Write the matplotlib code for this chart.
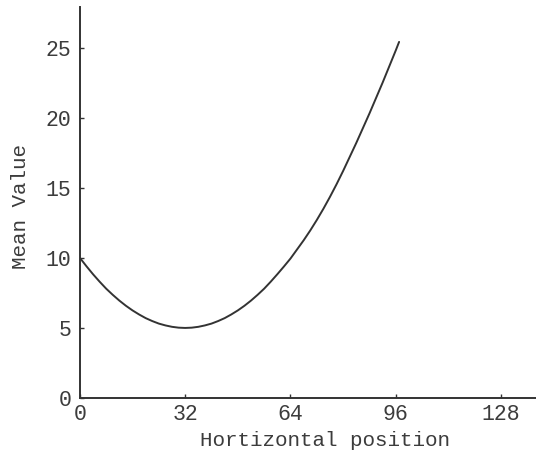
import matplotlib
matplotlib.use("Agg")
import matplotlib.pyplot as plt

# ─── data ──────────────────────────────────────────────────────
x_pos = [0, 2, 4, 6, 8, 10, 12, 14, 16, 18, 20, 22, 24, 26, 28, 30,
         32, 34, 36, 38, 40, 42, 44, 46, 48, 50, 52, 54, 56, 58, 60,
         62, 64, 66, 68, 70, 72, 74, 76, 78, 80, 82, 84, 86, 88, 90,
         92, 94, 96, 97]
mean_val = [10.0, 9.4, 8.83, 8.3, 7.8, 7.36, 6.95, 6.58, 6.25, 5.96,
            5.7, 5.49, 5.31, 5.18, 5.08, 5.02, 5.0, 5.02, 5.08, 5.18,
            5.31, 5.49, 5.7, 5.96, 6.25, 6.58, 6.95, 7.36, 7.8, 8.3,
            8.83, 9.38, 9.95, 10.6, 11.25, 11.95, 12.7, 13.5, 14.35,
            15.25, 16.2, 17.2, 18.2, 19.25, 20.3, 21.4, 22.5, 23.65,
            24.8, 25.4]
x_ticks = [0, 32, 64, 96, 128]
y_ticks = [0, 5, 10, 15, 20, 25]

INK = "#333333"
TXT = "#3c3c3c"
plt.rcParams["font.family"] = ["Liberation Mono", "DejaVu Sans Mono"]

fig = plt.figure(figsize=(5.36, 4.57), dpi=100)
ax = fig.add_axes([0.149, 0.129, 0.851, 0.856])

ax.plot(x_pos, mean_val, color=INK, lw=1.4,
        solid_joinstyle="round", solid_capstyle="round")

ax.set_xlim(0, 138.6)
ax.set_ylim(0, 27.9)
ax.set_xticks(x_ticks)
ax.set_yticks(y_ticks)
ax.tick_params(direction="in", length=3, width=1, colors=INK,
               labelcolor=TXT, labelsize=15.5, pad=4)
ax.tick_params(axis="y", pad=6)

for s in ("top", "right"):
    ax.spines[s].set_visible(False)
for s in ("left", "bottom"):
    ax.spines[s].set_color(INK)
    ax.spines[s].set_linewidth(1.4)

ax.set_xlabel("Hortizontal position", fontsize=15, color=TXT)
ax.set_ylabel("Mean Value", fontsize=15, color=TXT)
ax.xaxis.set_label_coords(0.538, -0.085)
ax.yaxis.set_label_coords(-0.11, 0.49)

fig.savefig("out.png", dpi=100, facecolor="white")
